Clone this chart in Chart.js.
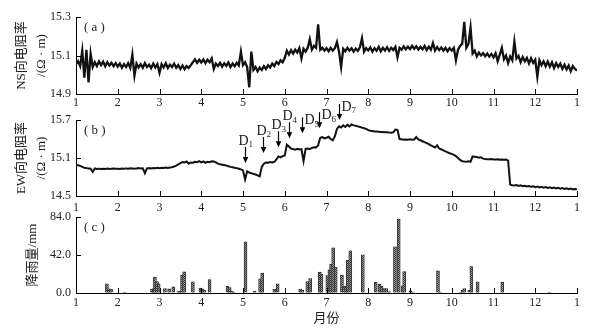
<!DOCTYPE html>
<html>
<head>
<meta charset="utf-8">
<script src="https://cdn.jsdelivr.net/npm/chart.js@4.4.0/dist/chart.umd.min.js"></script>
<style>
  html, body { margin: 0; padding: 0; background: #fff; }
  #wrap { position: relative; width: 593px; height: 333px; overflow: hidden; }
  #wrap canvas { position: absolute; left: 0; }
</style>
</head>
<body>
<div id="wrap">
  <canvas id="chartA" width="593" height="112" style="top:0px"></canvas>
  <canvas id="chartB" width="593" height="114" style="top:100px"></canvas>
  <canvas id="chartC" width="593" height="133" style="top:200px"></canvas>
</div>
<script>
// x axis: months, the last tick is January of next year
const monthTicks = [1, 2, 3, 4, 5, 6, 7, 8, 9, 10, 11, 12, 13];
const monthLabels = ['1', '2', '3', '4', '5', '6', '7', '8', '9', '10', '11', '12', '1'];

// resistivity records, one value every 0.05 month starting at month 1
const tStart = 1;
const tStep = 0.05;

// (a) NS resistivity
const nsRes = [
  15.055, 15.070, 15.045, 15.125, 14.985, 15.130, 14.960, 15.110, 15.040, 15.065, 15.045, 15.070, 15.050, 15.068, 15.044, 15.066, 15.048, 15.062, 15.045, 15.060,
  15.042, 15.058, 15.036, 15.055, 15.040, 15.060, 15.035, 15.105, 14.995, 15.058, 15.038, 15.055, 15.036, 15.060, 15.040, 15.052, 15.034, 15.058, 15.038, 15.055,
  15.010, 15.055, 15.038, 15.060, 15.035, 15.052, 15.040, 15.058, 15.036, 15.050, 15.030, 15.048, 15.028, 15.045, 15.035, 15.050, 15.065, 15.080, 15.062, 15.078,
  15.064, 15.080, 15.060, 15.078, 15.065, 15.085, 15.030, 15.058, 15.045, 15.062, 15.042, 15.060, 15.046, 15.064, 15.040, 15.058, 15.044, 15.062, 15.048, 15.120,
  15.050, 15.065, 15.040, 14.935, 15.120, 15.025, 15.040, 15.018, 15.038, 15.025, 15.045, 15.030, 15.050, 15.038, 15.058, 15.045, 15.066, 15.055, 15.075, 15.065,
  15.088, 15.125, 15.105, 15.128, 15.110, 15.130, 15.115, 15.138, 15.085, 15.135, 15.120, 15.140, 15.185, 15.130, 15.150, 15.140, 15.262, 15.130, 15.140, 15.125,
  15.138, 15.122, 15.140, 15.125, 15.138, 15.170, 15.120, 15.040, 15.135, 15.122, 15.140, 15.125, 15.138, 15.120, 15.136, 15.124, 15.142, 15.190, 15.120, 15.138,
  15.126, 15.142, 15.120, 15.138, 15.125, 15.145, 15.122, 15.140, 15.126, 15.143, 15.124, 15.140, 15.128, 15.145, 15.090, 15.140, 15.130, 15.148, 15.132, 15.146,
  15.133, 15.150, 15.135, 15.148, 15.130, 15.145, 15.132, 15.150, 15.128, 15.146, 15.130, 15.165, 15.126, 15.144, 15.128, 15.142, 15.125, 15.140, 15.122, 15.138,
  15.125, 15.140, 15.075, 15.130, 15.150, 15.160, 15.275, 15.140, 15.160, 15.245, 15.110, 15.125, 15.095, 15.115, 15.100, 15.112, 15.096, 15.110, 15.094, 15.108,
  15.090, 15.112, 15.070, 15.105, 15.140, 15.080, 15.100, 15.060, 15.095, 15.075, 15.172, 15.085, 15.098, 15.065, 15.092, 15.070, 15.088, 15.058, 15.086, 15.062,
  15.078, 14.990, 15.075, 15.050, 15.070, 15.045, 15.068, 15.042, 15.065, 15.035, 15.060, 15.040, 15.058, 15.030, 15.052, 15.028, 15.048, 15.018, 15.045, 15.030,
  15.022
];

// (b) EW resistivity
const ewRes = [
  14.990, 14.985, 14.975, 14.960, 14.945, 14.940, 14.935, 14.930, 14.880, 14.935, 14.928, 14.932, 14.925, 14.930, 14.928, 14.933, 14.926, 14.930, 14.934, 14.930,
  14.932, 14.928, 14.935, 14.930, 14.936, 14.932, 14.938, 14.934, 14.930, 14.936, 14.940, 14.935, 14.938, 14.860, 14.935, 14.940, 14.936, 14.942, 14.938, 14.944,
  14.940, 14.945, 14.942, 14.948, 14.944, 14.950, 14.955, 14.965, 14.980, 15.000, 15.020, 15.035, 15.030, 15.045, 15.010, 15.030, 15.025, 15.040, 15.035, 15.050,
  15.030, 15.045, 15.025, 15.040, 15.035, 15.050, 15.045, 15.030, 15.010, 15.000, 14.995, 14.990, 14.980, 14.970, 14.960, 14.955, 14.945, 14.940, 14.930, 14.920,
  14.905, 14.760, 14.890, 14.870, 14.860, 14.850, 14.840, 14.825, 14.810, 14.960, 15.010, 15.030, 15.025, 15.035, 15.030, 15.040, 15.080, 15.125, 15.110, 15.130,
  15.140, 15.310, 15.280, 15.250, 15.240, 15.230, 15.245, 15.235, 15.240, 15.050, 15.245, 15.250, 15.240, 15.260, 15.270, 15.265, 15.300, 15.420, 15.430, 15.410,
  15.420, 15.435, 15.400, 15.380, 15.440, 15.560, 15.600, 15.580, 15.615, 15.590, 15.625, 15.600, 15.630, 15.615, 15.610, 15.600, 15.590, 15.580, 15.570, 15.560,
  15.540, 15.530, 15.525, 15.520, 15.518, 15.515, 15.512, 15.510, 15.505, 15.508, 15.502, 15.500, 15.505, 15.548, 15.545, 15.400, 15.395, 15.390, 15.392, 15.388,
  15.395, 15.390, 15.392, 15.430, 15.395, 15.380, 15.365, 15.350, 15.335, 15.320, 15.300, 15.285, 15.265, 15.300, 15.250, 15.235, 15.220, 15.205, 15.190, 15.175,
  15.165, 15.150, 15.130, 15.100, 15.070, 15.050, 15.045, 15.042, 15.048, 15.040, 15.125, 15.120, 15.115, 15.105, 15.110, 15.090, 15.085, 15.082, 15.080, 15.083,
  15.078, 15.075, 15.080, 15.074, 15.078, 15.072, 15.076, 15.060, 14.680, 14.670, 14.665, 14.672, 14.660, 14.668, 14.655, 14.662, 14.650, 14.658, 14.645, 14.652,
  14.640, 14.648, 14.636, 14.644, 14.632, 14.640, 14.628, 14.636, 14.624, 14.632, 14.620, 14.628, 14.616, 14.624, 14.612, 14.622, 14.608, 14.618, 14.605, 14.612,
  14.605
];

// events marked on (b)
const eventT = [5.04, 5.48, 5.83, 6.11, 6.41, 6.83, 7.29];
const eventRes = [15.02, 15.18, 15.27, 15.41, 15.49, 15.57, 15.70];
const eventSub = ['1', '2', '3', '4', '5', '6', '7'];

// (c) rainfall
const rainT = [1.74, 1.79, 1.84, 2.17, 2.82, 2.86, 2.89, 2.94, 2.98, 3.13, 3.23, 3.33, 3.45, 3.49, 3.54, 3.59,
  3.80, 3.98, 4.02, 4.07, 4.20, 4.63, 4.68, 4.73, 4.78, 5.06, 5.28, 5.41, 5.46, 5.75, 5.83, 6.37, 6.42, 6.54, 6.61,
  6.84, 6.88, 7.02, 7.07, 7.11, 7.16, 7.22, 7.37, 7.42, 7.47, 7.51, 7.57, 7.87, 8.18, 8.27, 8.32, 8.38, 8.43, 8.50,
  8.64, 8.73, 8.82, 8.86, 9.01, 9.07, 9.67, 9.72, 10.22, 10.26, 10.30, 10.42, 10.47, 10.62, 11.21, 12.34];
const rainMm = [10.2, 4.7, 4.4, 1.0, 4.0, 5.0, 17.5, 12.7, 10.0, 5.0, 4.5, 6.7, 1.5, 2.0, 19.7, 23.4,
  12.4, 5.5, 4.5, 3.0, 14.9, 7.3, 6.0, 2.0, 1.0, 56.6, 2.0, 15.7, 21.9, 4.4, 10.2, 4.4, 3.3, 12.7, 16.0,
  23.0, 21.0, 19.3, 25.5, 31.8, 50.0, 28.5, 19.7, 7.7, 7.7, 36.2, 46.7, 42.3, 11.7, 9.5, 7.3, 5.0, 5.0, 1.5,
  51.1, 81.8, 8.0, 23.7, 2.5, 1.0, 24.4, 1.0, 1.0, 3.0, 5.0, 3.0, 29.2, 12.4, 11.7, 1.0];

const nsTicks = [14.9, 15.1, 15.3];
const ewTicks = [14.5, 15.1, 15.7];
const rainTicks = [0, 42, 84];

const SERIF = '"Liberation Serif", "Times New Roman", "Noto Sans CJK SC", serif';
const tickFont = { family: SERIF, size: 12 };
const titleFont = { family: SERIF, size: 13, lineHeight: 1.5 };
const ink = '#222';

// ticks drawn inward, as in the original figure
const inwardTicks = {
  id: 'inwardTicks',
  afterDraw(chart) {
    const { ctx, scales: { x, y } } = chart;
    ctx.save();
    ctx.strokeStyle = '#000';
    ctx.lineWidth = 1;
    ctx.beginPath();
    x.ticks.forEach(t => {
      const px = Math.round(x.getPixelForValue(t.value)) + 0.5;
      ctx.moveTo(px, x.top);
      ctx.lineTo(px, x.top - 5);
    });
    y.ticks.forEach(t => {
      const py = Math.round(y.getPixelForValue(t.value)) + 0.5;
      ctx.moveTo(y.right, py);
      ctx.lineTo(y.right + 5, py);
    });
    ctx.stroke();
    ctx.restore();
  }
};

// "( a )" style tag in the top-left corner of each panel
const panelTag = {
  id: 'panelTag',
  afterDraw(chart, args, opts) {
    const { ctx, chartArea } = chart;
    ctx.save();
    ctx.font = '13px ' + SERIF;
    ctx.fillStyle = ink;
    ctx.textBaseline = 'middle';
    ctx.fillText(opts.text, chartArea.left + 8, chartArea.top + 11);
    ctx.restore();
  }
};

// arrows D1..D7 on panel (b)
const eventArrows = {
  id: 'eventArrows',
  afterDatasetsDraw(chart) {
    const { ctx, scales: { x, y } } = chart;
    ctx.save();
    ctx.strokeStyle = '#000';
    ctx.lineWidth = 1.2;
    eventT.forEach((t, i) => {
      const px = Math.round(x.getPixelForValue(t)) + 0.5;
      const tip = y.getPixelForValue(eventRes[i]);
      const top = tip - 16;
      ctx.fillStyle = '#000';
      ctx.beginPath();
      ctx.moveTo(px, top);
      ctx.lineTo(px, tip - 5);
      ctx.stroke();
      ctx.beginPath();
      ctx.moveTo(px - 2.8, tip - 6);
      ctx.lineTo(px + 2.8, tip - 6);
      ctx.lineTo(px, tip);
      ctx.closePath();
      ctx.fill();

      let lx, ly;
      if (i < 4) { lx = px - 7; ly = top - 6; } else { lx = px + 2; ly = top + 3; }
      ctx.font = '14px ' + SERIF;
      ctx.textBaseline = 'middle';
      ctx.fillStyle = ink;
      ctx.fillText('D', lx, ly);
      const w = ctx.measureText('D').width;
      ctx.font = '9px ' + SERIF;
      ctx.fillText(eventSub[i], lx + w, ly + 4);
    });
    ctx.restore();
  }
};

function makeOptions(cfg) {
  return {
    responsive: false,
    animation: false,
    events: [],
    layout: { padding: { top: cfg.top, right: 16, left: 0, bottom: 0 } },
    plugins: {
      legend: { display: false },
      tooltip: { enabled: false },
      panelTag: { text: cfg.tag }
    },
    scales: {
      x: {
        type: 'linear',
        min: 1,
        max: 13,
        offset: false,
        afterBuildTicks: s => { s.ticks = monthTicks.map(v => ({ value: v })); },
        afterFit: s => { s.height = cfg.xHeight; },
        ticks: {
          callback: v => monthLabels[v - 1],
          padding: cfg.xPad,
          color: ink,
          font: tickFont,
          maxRotation: 0,
          autoSkip: false
        },
        grid: { drawOnChartArea: false, drawTicks: false, offset: false },
        border: { color: '#000', width: 1 },
        title: cfg.xTitle
          ? { display: true, text: cfg.xTitle, color: ink, font: titleFont, padding: { top: 0, bottom: 5 } }
          : { display: false }
      },
      y: {
        min: cfg.yTicks[0],
        max: cfg.yTicks[cfg.yTicks.length - 1],
        afterBuildTicks: s => { s.ticks = cfg.yTicks.map(v => ({ value: v })); },
        afterFit: s => { s.width = 76; },
        ticks: {
          callback: v => v.toFixed(1),
          padding: 5,
          color: ink,
          font: tickFont
        },
        grid: { drawOnChartArea: false, drawTicks: false },
        border: { color: '#000', width: 1 },
        title: {
          display: true,
          text: cfg.yTitle,
          color: ink,
          font: titleFont,
          padding: { top: cfg.yTitlePad, bottom: 0 }
        }
      }
    }
  };
}

const toXY = arr => arr.map((v, i) => ({ x: tStart + i * tStep, y: v }));

// (a)
new Chart(document.getElementById('chartA'), {
  type: 'line',
  data: {
    datasets: [{
      data: toXY(nsRes),
      borderColor: '#111',
      borderWidth: 2.3,
      pointRadius: 0,
      tension: 0
    }]
  },
  options: makeOptions({
    top: 17, xHeight: 18, xPad: 2, tag: '( a )',
    yTicks: nsTicks, yTitle: ['NS向电阻率', '/(Ω · m)'], yTitlePad: 12
  }),
  plugins: [inwardTicks, panelTag]
});

// (b)
new Chart(document.getElementById('chartB'), {
  type: 'line',
  data: {
    datasets: [{
      data: toXY(ewRes),
      borderColor: '#111',
      borderWidth: 2,
      pointRadius: 0,
      tension: 0
    }]
  },
  options: makeOptions({
    top: 20, xHeight: 18, xPad: 5, tag: '( b )',
    yTicks: ewTicks, yTitle: ['EW向电阻率', '/(Ω · m)'], yTitlePad: 12
  }),
  plugins: [inwardTicks, panelTag, eventArrows]
});

// (c) hatched rainfall bars
const pat = document.createElement('canvas');
pat.width = 2;
pat.height = 2;
const pctx = pat.getContext('2d');
pctx.fillStyle = '#9a9a9a';
pctx.fillRect(0, 0, 2, 2);
pctx.fillStyle = '#3a3a3a';
pctx.fillRect(0, 0, 1, 1);
pctx.fillRect(1, 1, 1, 1);
const hatch = pctx.createPattern(pat, 'repeat');

new Chart(document.getElementById('chartC'), {
  type: 'bar',
  data: {
    datasets: [{
      data: rainT.map((t, i) => ({ x: t, y: rainMm[i] })),
      backgroundColor: hatch,
      borderColor: '#2a2a2a',
      borderWidth: 0.8,
      barThickness: 3
    }]
  },
  options: makeOptions({
    top: 17, xHeight: 40, xPad: 3, tag: '( c )', xTitle: '月份',
    yTicks: rainTicks, yTitle: '降雨量/mm', yTitlePad: 23
  }),
  plugins: [inwardTicks, panelTag]
});
</script>
</body>
</html>
